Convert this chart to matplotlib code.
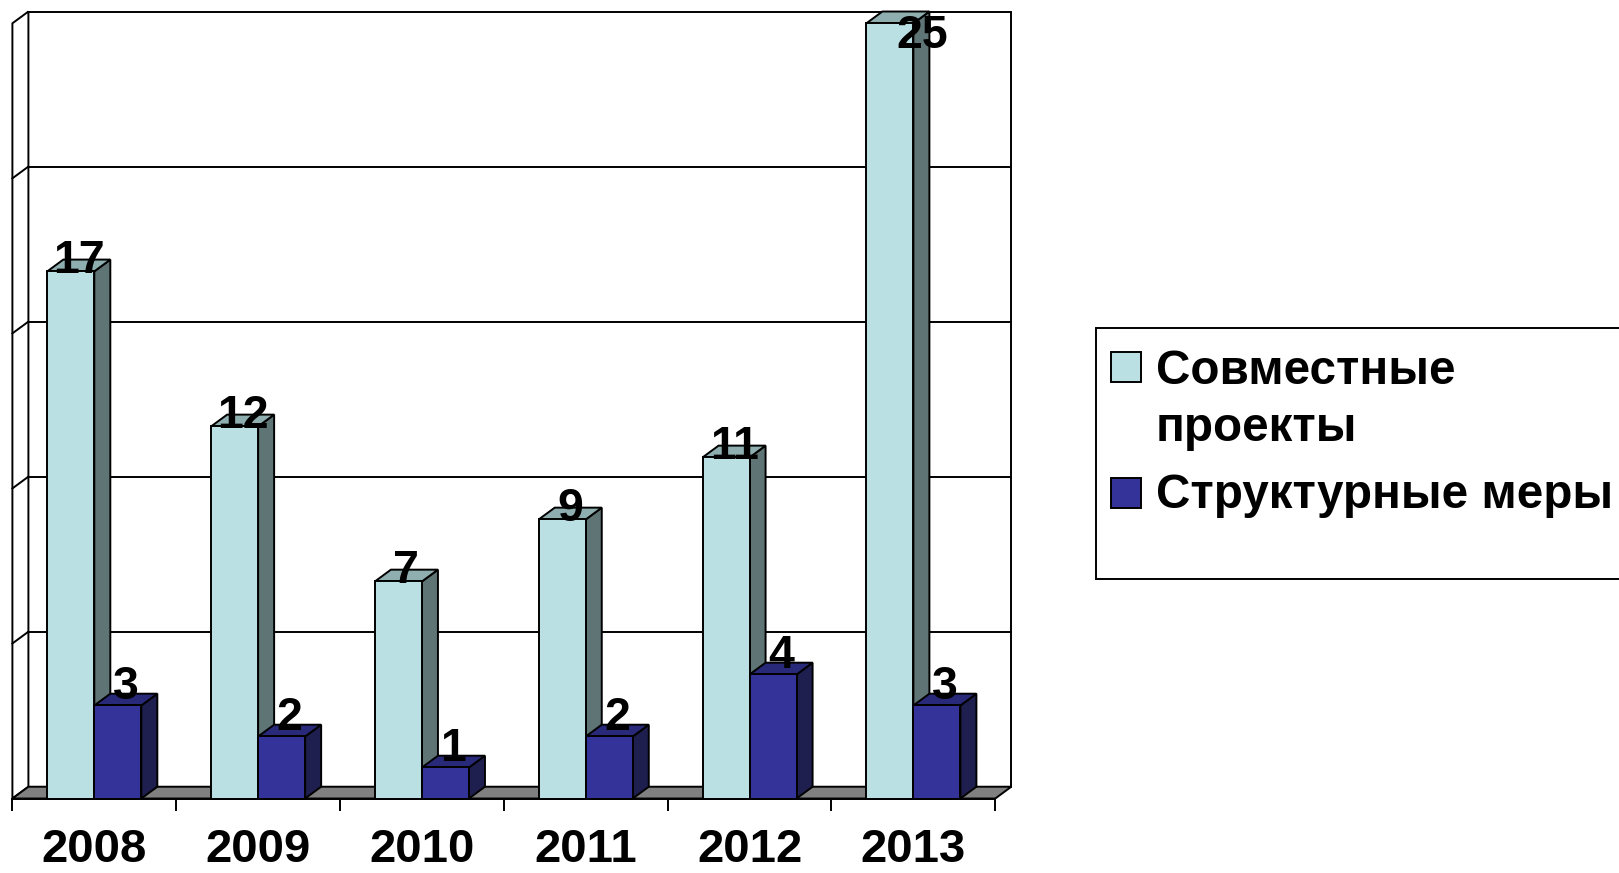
import matplotlib.pyplot as plt
from matplotlib.patches import Polygon, Rectangle

years = ["2008", "2009", "2010", "2011", "2012", "2013"]
joint_projects = [17, 12, 7, 9, 11, 25]
structural = [3, 2, 1, 2, 4, 3]
series_names = ["Совместные\nпроекты", "Структурные меры"]

plt.rcParams["font.family"] = ["Liberation Sans", "DejaVu Sans"]

W, H = 1619, 873
fig = plt.figure(figsize=(W / 100, H / 100), dpi=100)

# front plane of the 3d box: x = category index, y = value
ax = fig.add_axes([12.4 / W, (H - 798.5) / H, 982.9 / W, 775.2 / H])
ax.set_xlim(-0.5, 5.5)
ax.set_ylim(0, 25)

DX = 0.0977   # depth offset, category units
DY = 0.38     # depth offset, value units
BW = 0.287    # bar width
LW = 1.4
ymax = 25

# walls and floor
back = Rectangle((-0.5 + DX, DY), 6, ymax, fc="white", ec="black", lw=LW, clip_on=False, zorder=1)
ax.add_patch(back)
side = Polygon([(-0.5, 0), (-0.5, ymax), (-0.5 + DX, ymax + DY), (-0.5 + DX, DY)],
               closed=True, fc="white", ec="black", lw=LW, clip_on=False, zorder=1)
ax.add_patch(side)
for v in range(5, ymax, 5):
    ax.plot([-0.5 + DX, 5.5 + DX], [v + DY, v + DY], color="black", lw=LW, clip_on=False, zorder=2)
    ax.plot([-0.5, -0.5 + DX], [v, v + DY], color="black", lw=LW, clip_on=False, zorder=2)
floor = Polygon([(-0.5, 0), (5.5, 0), (5.5 + DX, DY), (-0.5 + DX, DY)],
                closed=True, fc="#808080", ec="black", lw=LW, clip_on=False, zorder=3)
ax.add_patch(floor)


def bar3d(x0, v, front, top, right, z):
    x1 = x0 + BW
    ax.add_patch(Polygon([(x1, 0), (x1 + DX, DY), (x1 + DX, v + DY), (x1, v)], closed=True,
                         fc=right, ec="black", lw=LW, clip_on=False, zorder=z))
    ax.add_patch(Polygon([(x0, v), (x0 + DX, v + DY), (x1 + DX, v + DY), (x1, v)], closed=True,
                         fc=top, ec="black", lw=LW, clip_on=False, zorder=z))
    ax.add_patch(Rectangle((x0, 0), BW, v, fc=front, ec="black", lw=LW, clip_on=False, zorder=z))


light = ("#BAE0E3", "#8FAEAF", "#5F7474")
dark = ("#333399", "#29297A", "#1F1F4F")

z = 4
for i in range(len(years)):
    bar3d(i - BW, joint_projects[i], *light, z)
    bar3d(i, structural[i], *dark, z + 1)
    z += 2

# value labels
for i in range(len(years)):
    for x0, v, lift in [(i - BW, joint_projects[i], -0.05), (i, structural[i], 0.2)]:
        xc = x0 + BW / 2 + DX / 2
        yl = v + lift
        if yl > 24.2:
            yl = 24.2
            xc += 1.5 * DX
        ax.text(xc, yl, str(v), ha="center", va="baseline", fontsize=33.5,
                fontweight="bold", zorder=50, clip_on=False)

# category axis
for s in ["left", "right", "top"]:
    ax.spines[s].set_visible(False)
ax.spines["bottom"].set_linewidth(LW)
ax.spines["bottom"].set_zorder(60)
ax.set_yticks([])
ax.set_xticks(range(len(years)))
ax.set_xticklabels(years, fontsize=34, fontweight="bold")
ax.set_xticks([x - 0.5 for x in range(len(years) + 1)], minor=True)
ax.tick_params(axis="x", which="major", length=0, pad=21.5)
ax.tick_params(axis="x", which="minor", length=8.6, width=LW, direction="out")

# legend, drawn in pixel coordinates
lax = fig.add_axes([0, 0, 1, 1])
lax.set_xlim(0, W)
lax.set_ylim(H, 0)
lax.axis("off")
lax.add_patch(Rectangle((1095.5, 327.5), 700, 251.5, fc="white", ec="black", lw=LW))
lax.add_patch(Rectangle((1111, 351.5), 30, 30, fc=light[0], ec="black", lw=LW))
lax.add_patch(Rectangle((1111, 477.5), 30, 30, fc=dark[0], ec="black", lw=LW))
lax.text(1156, 384, "Совместные", fontsize=34.3, fontweight="bold", va="baseline")
lax.text(1156, 441, "проекты", fontsize=34.3, fontweight="bold", va="baseline")
lax.text(1156, 508, series_names[1], fontsize=34.3, fontweight="bold", va="baseline")

fig.savefig("out.png", dpi=100)
